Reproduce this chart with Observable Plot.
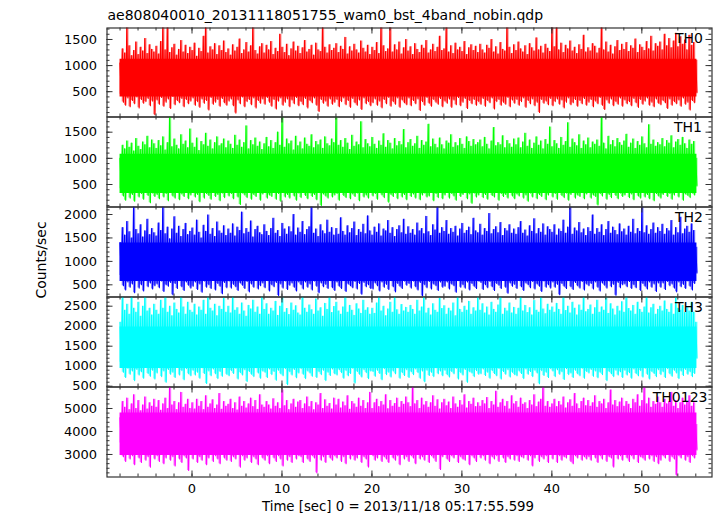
<!DOCTYPE html>
<html><head><meta charset="utf-8">
<script src="https://cdn.jsdelivr.net/npm/d3@7"></script>
<script src="https://cdn.jsdelivr.net/npm/@observablehq/plot@0.6"></script>
<style>
body{margin:0;background:#fff;}
#chart{position:relative;width:717px;height:516px;background:#fff;font-family:"DejaVu Sans",sans-serif;}
#chart svg{position:absolute;left:0;top:0;}
</style></head><body><div id="chart"></div>
<script>
// ---------- data ----------
const title = "ae808040010_20131118051755_wam0_bst_4band_nobin.qdp";
const xLabel = "Time [sec] 0 = 2013/11/18 05:17:55.599";
const yLabel = "Counts/sec";
const bandNames = ["TH0", "TH1", "TH2", "TH3", "TH0123"];
const startTime = -8;      // first bin [sec]
const binStep = 0.25;      // envelope bin width [sec]
const xMajor = [0, 10, 20, 30, 40, 50];
const xMinorStep = 2;

// per 0.25 s bin: highest and lowest counts/sec (16 bins = 4 s per row)
const th0Hi = [
1050,1320,1240,1750,1380,1190,1290,1450,1210,1350,1280,1520,1230,1400,1310,1260,
1370,1220,1460,1750,1300,1750,1250,1340,1410,1200,1310,1480,1260,1390,1230,1350,
1290,1430,1180,1330,1270,1560,1750,1240,1360,1300,1420,1210,1380,1290,1470,1250,
1320,1200,1400,1280,1350,1510,1230,1300,1440,1260,1380,1750,1290,1220,1360,1420,
1240,1390,1300,1460,1210,1330,1270,1600,1350,1250,1410,1190,1320,1450,1280,1370,
1230,1340,1480,1260,1310,1390,1200,1430,1300,1270,1750,1350,1240,1400,1290,1330,
1420,1250,1370,1310,1540,1220,1360,1280,1410,1300,1240,1470,1330,1260,1390,1210,
1350,1290,1440,1230,1750,1380,1270,1320,1750,1260,1400,1300,1450,1220,1340,1500,
1280,1360,1210,1420,1310,1250,1390,1330,1480,1240,1300,1410,1270,1350,1560,1290,
1320,1750,1260,1380,1230,1430,1300,1350,1270,1460,1210,1340,1400,1290,1370,1250,
1410,1300,1240,1390,1330,1500,1260,1360,1220,1440,1310,1280,1750,1350,1230,1400,
1290,1450,1320,1260,1380,1210,1420,1340,1280,1530,1300,1370,1240,1410,1330,1270,
1750,1360,1750,1300,1430,1250,1390,1320,1470,1280,1350,1230,1400,1310,1580,1260,
1340,1280,1420,1370,1240,1330,1750,1300,1450,1260,1390,1220,1360,1480,1290,1410,
1310,1440,1270,1380,1330,1510,1250,1400,1350,1290,1460,1320,1560,1280,1420,1370,
1450,1300,1600,1380,1520,1340,1470,1620,1360,1550,1410,1490,1300,1580,1390,1440,
1100];
const th0Lo = [
450,300,240,380,210,330,270,400,190,350,280,310,370,230,320,60,
340,260,390,220,300,360,180,410,250,330,290,370,210,350,270,320,
380,240,310,200,360,280,330,150,390,260,300,350,220,370,290,240,
320,360,230,90,340,270,400,210,310,350,250,380,190,330,280,360,
260,390,300,220,350,170,320,380,240,300,360,210,340,270,390,230,
310,250,370,190,330,290,380,240,120,350,280,320,220,360,260,300,
350,210,310,380,250,330,200,370,290,240,340,160,380,270,310,230,
290,360,240,320,190,350,270,390,220,310,260,380,200,340,290,250,
380,230,330,270,360,140,310,240,390,280,220,350,300,260,370,210,
320,280,360,200,340,250,390,230,300,370,180,330,270,350,240,310,
260,370,220,330,290,380,170,310,350,240,300,260,390,210,340,280,
350,240,310,380,200,330,270,360,230,300,100,350,280,320,250,370,
230,310,360,260,340,190,300,380,250,290,350,220,330,270,370,240,
300,350,210,320,270,390,240,160,340,280,360,230,310,260,380,220,
340,270,310,230,370,290,200,350,260,320,380,240,300,210,360,280,
250,330,290,180,360,240,310,270,340,220,380,260,300,150,330,290,
480];

const th1Hi = [
1000,1250,1180,1330,1210,1290,1140,1380,1230,1170,1310,1260,1420,1200,1350,1280,
1190,1340,1240,1410,1160,1300,1790,1220,1370,1250,1180,1450,1270,1330,1200,1560,
1290,1210,1390,1150,1320,1260,1480,1230,1350,1180,1300,1410,1240,1280,1370,1200,
1330,1270,1190,1440,1250,1350,1210,1300,1620,1180,1340,1260,1390,1230,1310,1170,
1280,1400,1220,1340,1190,1300,1500,1250,1790,1210,1370,1280,1330,1160,1420,1240,
1310,1180,1390,1270,1230,1450,1200,1320,1260,1350,1190,1410,1280,1240,1370,1300,
1790,1250,1340,1210,1380,1290,1170,1440,1230,1310,1260,1700,1200,1360,1280,1220,
1400,1270,1190,1330,1250,1470,1210,1340,1290,1180,1380,1240,1320,1260,1550,1200,
1300,1360,1230,1280,1420,1190,1340,1250,1310,1650,1220,1370,1270,1200,1390,1260,
1180,1330,1290,1450,1210,1300,1240,1380,1270,1190,1410,1320,1230,1360,1260,1300,
1350,1220,1400,1270,1180,1330,1590,1240,1300,1260,1430,1200,1340,1280,1210,1370,
1260,1390,1200,1310,1480,1230,1350,1190,1290,1410,1250,1330,1180,1360,1270,1600,
1220,1340,1280,1190,1400,1250,1320,1680,1210,1370,1300,1240,1450,1190,1330,1260,
1390,1200,1310,1270,1350,1230,1790,1290,1180,1420,1260,1340,1220,1380,1300,1250,
1330,1460,1210,1290,1370,1190,1320,1250,1410,1280,1200,1640,1270,1350,1230,1300,
1260,1380,1220,1340,1290,1430,1200,1310,1360,1250,1400,1280,1190,1350,1270,1320,
1000];
const th1Lo = [
420,280,200,350,240,310,180,380,260,330,220,360,290,150,340,270,
310,230,370,260,330,190,350,280,240,390,210,320,270,360,230,300,
350,260,310,170,380,240,330,290,220,360,270,310,190,340,250,380,
280,330,230,370,260,120,340,300,250,380,220,310,270,350,200,320,
360,240,300,270,390,220,330,180,350,260,310,240,370,280,200,340,
250,380,290,230,340,270,310,210,360,100,320,280,240,370,260,300,
330,200,350,290,250,380,230,320,270,340,190,360,260,300,240,370,
280,330,220,360,300,250,390,160,310,270,340,230,380,260,310,210,
350,270,320,240,370,210,300,340,260,280,360,190,330,250,390,230,
300,360,240,330,280,200,350,270,310,380,230,320,140,340,260,300,
370,250,310,220,350,290,260,380,200,330,270,310,240,360,280,230,
320,280,370,240,300,180,340,260,390,230,310,270,350,210,300,360,
260,330,220,370,290,250,340,200,310,360,240,300,270,380,230,320,
350,240,300,270,110,330,280,360,220,310,250,380,290,230,340,270,
300,370,250,320,210,350,280,240,390,260,310,230,360,190,330,280,
240,310,360,270,330,220,300,350,260,380,200,320,290,250,340,300,
470];

const th2Hi = [
1400,1720,1560,1850,1630,1500,2160,1680,1590,1780,1520,1650,1900,1570,1700,1610,
1540,1820,1660,2160,1590,1730,1480,1690,1950,1600,1750,1530,1680,1810,1570,1640,
1710,1560,1880,1620,1500,1770,1640,1990,1580,1700,1530,1840,1650,1600,1760,1550,
1690,1600,1800,1540,1730,1660,2050,1590,1700,1620,1860,1520,1680,1750,1610,1570,
1780,1640,1550,1700,1920,1600,1660,1530,1810,1690,1580,1740,1630,2000,1560,1710,
1620,1850,1570,1680,1740,2160,1600,1690,1530,1780,1650,1590,1880,1620,1720,1560,
1700,1580,1930,1640,1560,1760,1610,1700,1840,1550,1680,1620,1790,1590,1970,1650,
1560,1730,1620,1800,1540,1690,1650,1870,1600,1720,1530,1680,1760,1610,1900,1580,
1740,1600,1680,1560,1820,1650,1700,1590,1960,1630,1550,1780,1670,2160,1600,1720,
1640,1870,1580,1700,1620,1750,1540,1690,1810,1600,1660,1730,1570,1920,1650,1610,
1790,1560,1700,1640,2020,1590,1680,1740,1610,1830,1550,1700,1650,1780,1600,1690,
1580,1720,1850,1600,1670,1540,1760,1640,1910,1590,1700,1620,1800,1560,1740,1680,
1620,1780,1560,1690,1640,1880,1600,1730,2160,1580,1710,1650,1830,1610,1690,1550,
1720,1640,1990,1580,1700,1620,1780,1550,1680,1850,1600,1730,1660,1570,1800,1630,
1690,1560,1750,1620,1900,1590,1700,1640,2160,1610,1760,1580,1680,1820,1600,1720,
1640,1790,1580,1700,1650,1870,1560,1720,1610,1940,1590,1690,1750,1620,1800,1660,
1300];
const th2Lo = [
700,480,390,560,450,520,330,590,430,500,370,610,460,540,410,480,
520,440,580,360,500,470,550,290,530,420,590,460,380,560,490,430,
470,560,400,520,340,580,450,500,420,600,390,530,470,310,550,440,
580,430,510,460,380,540,490,420,570,350,520,450,600,410,480,540,
440,590,370,500,460,550,270,520,430,580,400,490,540,450,370,560,
500,410,560,450,520,390,580,470,330,540,460,510,420,590,440,380,
560,470,420,590,360,520,480,440,570,410,530,300,550,460,500,420,
410,540,480,370,560,450,510,400,590,460,350,530,470,420,580,490,
530,430,580,460,390,550,260,500,440,570,410,520,480,380,560,450,
470,560,410,520,480,340,590,450,500,430,560,390,530,470,420,580,
550,400,500,440,570,460,380,530,490,420,600,450,320,540,470,510,
420,590,460,380,540,500,440,570,410,520,470,360,580,450,500,430,
560,450,510,290,530,470,420,590,460,400,550,480,430,570,390,520,
480,530,410,560,450,370,540,490,430,580,460,510,280,550,440,500,
520,460,570,420,500,440,590,380,530,470,410,560,450,520,360,540,
450,540,400,570,480,520,430,350,560,460,510,420,580,470,390,530,
750];

const th3Hi = [
2100,2730,2400,2550,2300,2730,2450,2350,2600,2250,2500,2730,2380,2450,2280,2550,
2400,2300,2650,2450,2730,2350,2500,2260,2580,2420,2330,2730,2480,2300,2600,2400,
2350,2550,2280,2480,2400,2650,2300,2730,2450,2380,2550,2260,2500,2420,2700,2350,
2500,2330,2730,2400,2460,2300,2580,2380,2250,2520,2430,2650,2350,2480,2300,2730,
2420,2560,2300,2450,2380,2620,2270,2500,2730,2350,2440,2290,2580,2400,2510,2330,
2280,2730,2450,2350,2530,2410,2300,2680,2380,2460,2250,2570,2420,2730,2340,2490,
2600,2380,2300,2480,2730,2350,2520,2400,2270,2560,2430,2320,2650,2400,2460,2300,
2450,2320,2580,2730,2380,2500,2260,2430,2600,2350,2730,2410,2300,2540,2380,2470,
2350,2520,2420,2300,2650,2380,2480,2730,2330,2450,2280,2560,2400,2350,2700,2440,
2510,2300,2450,2380,2580,2260,2730,2420,2350,2500,2400,2620,2300,2460,2380,2730,
2400,2560,2330,2480,2280,2600,2420,2350,2530,2730,2300,2450,2380,2580,2330,2470,
2300,2450,2730,2380,2520,2340,2460,2280,2640,2400,2350,2730,2430,2310,2550,2400,
2480,2350,2570,2420,2300,2730,2390,2500,2330,2600,2450,2280,2530,2400,2730,2360,
2420,2530,2300,2460,2650,2350,2480,2400,2730,2320,2560,2430,2280,2500,2380,2610,
2350,2730,2440,2380,2520,2300,2600,2420,2350,2480,2730,2330,2460,2550,2300,2420,
2500,2380,2630,2420,2350,2560,2300,2730,2450,2400,2520,2340,2470,2380,2600,2350,
2100];
const th3Lo = [
1100,850,720,950,800,880,640,920,780,860,700,990,820,750,900,680,
830,960,740,880,600,920,800,850,720,970,780,890,660,940,810,760,
900,780,850,700,960,820,570,880,760,930,810,690,870,750,980,800,
760,890,820,950,680,840,780,910,620,870,800,740,960,830,700,880,
850,720,930,790,870,650,900,810,760,940,540,860,780,920,710,830,
940,800,690,880,830,750,970,720,860,790,900,640,850,770,930,810,
780,910,840,700,890,760,820,950,580,870,800,730,910,840,690,880,
870,750,900,820,660,940,790,850,730,880,810,960,700,840,770,910,
720,860,790,930,840,700,880,610,900,770,850,740,960,810,880,760,
900,790,730,870,810,950,680,840,780,920,600,860,830,740,890,800,
810,930,770,850,700,890,820,760,940,680,870,800,910,730,850,790,
760,880,820,690,930,800,870,740,900,830,560,890,770,850,720,940,
880,740,910,800,860,670,940,790,830,720,900,810,760,950,700,870,
830,920,750,880,710,850,790,960,640,870,810,740,900,780,860,720,
900,780,840,700,930,820,760,890,730,950,800,680,870,820,740,910,
790,860,720,940,810,750,900,830,690,880,770,920,800,860,740,820,
1200];

const th0123Hi = [
4600,5300,5050,5450,4950,5200,5600,5000,5350,4900,5150,5500,4980,5250,5100,5400,
5050,5350,4920,5200,5450,5000,5935,5150,5300,4950,5250,5700,5050,5180,5400,5000,
5250,4980,5400,5100,5300,4950,5550,5050,5200,5380,5000,5150,5650,4970,5300,5100,
5180,5400,5000,5250,4930,5500,5100,5300,5020,5200,5450,5080,5350,4960,5600,5150,
5050,5300,5150,4980,5420,5100,5250,5000,5800,5120,5350,4950,5200,5400,5050,5280,
5350,5000,5200,5500,5080,5300,4940,5250,5150,5650,5000,5380,5100,5220,4980,5450,
5150,5400,5020,5280,5120,5550,4970,5300,5200,5050,5450,5100,5350,5000,5250,5700,
5000,5250,5400,5080,5300,5150,5600,4990,5350,5100,5220,5450,5050,5300,5180,5500,
5250,5080,5935,5200,5350,5000,5450,5150,5300,5050,5250,5550,5100,5380,4980,5250,
5400,5120,5280,5000,5500,5200,5050,5350,5150,5600,5020,5300,5180,5450,5080,5250,
5100,5350,5200,5480,5000,5300,5150,5750,5050,5250,5400,5100,5300,4980,5550,5200,
5300,5050,5450,5180,5250,5000,5350,5150,5600,5080,5280,5400,5935,5100,5300,5050,
5200,5400,5080,5300,5150,5500,5020,5250,5380,5100,5650,5200,5000,5300,5450,5120,
5350,5100,5250,5550,5050,5300,5200,5400,5000,5250,5800,5150,5350,5080,5280,5450,
5100,5300,5180,5000,5400,5250,5600,5100,5350,5935,5200,5450,5050,5300,5180,5500,
5250,5050,5400,5200,5300,5700,5100,5350,5000,5250,5450,5150,5300,5550,5100,5250,
4300];
const th0123Lo = [
3500,2900,2700,3050,2800,2950,2550,3100,2850,2650,3000,2750,2900,2450,3050,2800,
2950,2700,3000,2600,2850,3100,2750,2900,2500,3050,2800,2650,2950,2850,2300,3000,
2800,3050,2650,2900,2750,3000,2550,2850,3100,2700,2950,2800,2600,3000,2850,2750,
3000,2700,2900,2800,3050,2450,2950,2750,2850,3000,2650,2900,2800,2550,3050,2850,
2750,2950,2600,3000,2850,2700,2950,2800,2500,3050,2750,2900,2650,3000,2800,2950,
2900,2650,3050,2800,2700,2950,2850,2200,3000,2750,2900,2650,3050,2850,2750,2950,
2850,3000,2700,2900,2600,3050,2800,2950,2750,2850,3000,2650,2900,2800,2450,3000,
2950,2750,2850,3050,2700,2900,2800,2650,3000,2850,2750,2950,2550,3050,2800,2900,
2700,2950,2850,2600,3000,2800,2900,2750,3050,2650,2950,2850,2700,3000,2350,2900,
3000,2800,2700,2950,2850,3050,2650,2900,2800,2750,3000,2550,2950,2850,2700,3000,
2850,2950,2750,3000,2600,2900,2800,2950,2700,3050,2850,2650,2900,2800,3000,2750,
2950,2700,2900,2850,3050,2750,2950,2500,2850,3000,2700,2900,2800,2950,2650,3050,
2800,3000,2650,2950,2750,2900,2850,3050,2700,2600,2950,2850,3000,2750,2900,2800,
2900,2750,3050,2850,2650,2950,2800,3000,2700,2900,2850,2450,3000,2800,2950,2750,
3050,2850,2700,2950,2800,3000,2650,2900,2850,2750,3050,2800,2950,2700,2900,2600,
2750,2950,2850,3000,2700,2900,2800,2100,2950,2850,3000,2750,2900,2650,2950,2850,
3200];

// densest part of each light curve [low, high]
const th0Core = [400, 1120];
const th1Core = [330, 1080];
const th2Core = [570, 1390];
const th3Core = [940, 1980];
const th0123Core = [2950, 4800];

// y axis: tick labels, minor tick step, visible range
const th0Ticks = [500, 1000, 1500];
const th1Ticks = [500, 1000, 1500];
const th2Ticks = [500, 1000, 1500, 2000];
const th3Ticks = [500, 1000, 1500, 2000, 2500];
const th0123Ticks = [3000, 4000, 5000];
const minorSteps = [100, 100, 100, 100, 200];
const yDomains = [[15, 1720], [70, 1790], [240, 2160], [480, 2730], [2020, 5935]];
const xDomain = [-9.45, 57.8];

// ---------- layout / style ----------
const W = 717, H = 516;
const mL = 106.5, mR = 5.5;
const panelTops = [27.5, 116.5, 206.5, 296.5, 386.5];
const panelBottom = 476.5;
const colors = ["#ff0000", "#00ff00", "#0000ff", "#00ffff", "#ff00ff"];
const labelDx = [-9, -10, -9, -9, -4.5];
const axisColor = "#333333";
const font = "DejaVu Sans";

const his = [th0Hi, th1Hi, th2Hi, th3Hi, th0123Hi];
const los = [th0Lo, th1Lo, th2Lo, th3Lo, th0123Lo];
const cores = [th0Core, th1Core, th2Core, th3Core, th0123Core];
const ticksAll = [th0Ticks, th1Ticks, th2Ticks, th3Ticks, th0123Ticks];

const times = th0Hi.map((_, i) => startTime + i * binStep);
const xMinor = d3.range(startTime, xDomain[1], xMinorStep);
const chart = document.getElementById("chart");

bandNames.forEach((name, k) => {
  const top = panelTops[k];
  const bottom = k < 4 ? panelTops[k + 1] : panelBottom;
  const fh = bottom - top, fw = W - mL - mR;
  const hi = his[k], lo = los[k];
  const n = Math.min(hi.length, lo.length, times.length);
  const zig = [], bins = [];
  for (let i = 0; i < n; i++) {
    zig.push({t: times[i], v: hi[i]});
    zig.push({t: times[i] + binStep / 2, v: lo[i]});
    bins.push({t: times[i] + binStep / 4, hi: hi[i], lo: lo[i]});
  }
  const core = [
    {t: times[0], lo: cores[k][0], hi: cores[k][1]},
    {t: times[n - 1] + binStep / 2, lo: cores[k][0], hi: cores[k][1]}
  ];
  const dom = yDomains[k];
  const st = minorSteps[k];
  const yMinor = d3.range(Math.ceil(dom[0] / st) * st, dom[1], st);
  const isLast = k === 4;
  const major = 6, minor = 3;
  const marks = [
    Plot.ruleX(bins, {x: "t", y1: "lo", y2: "hi", stroke: colors[k], strokeWidth: 2.25, strokeOpacity: 0.5, clip: true}),
    Plot.areaY(core, {x: "t", y1: "lo", y2: "hi", fill: colors[k], clip: true}),
    Plot.line(zig, {x: "t", y: "v", stroke: colors[k], strokeWidth: 1.1, strokeOpacity: 1, clip: true}),
    Plot.tickX(xMajor, {x: d => d, insetTop: fh - major, stroke: axisColor}),
    Plot.tickX(xMajor, {x: d => d, insetBottom: fh - major, stroke: axisColor}),
    Plot.tickX(xMinor, {x: d => d, insetTop: fh - minor, stroke: axisColor}),
    Plot.tickX(xMinor, {x: d => d, insetBottom: fh - minor, stroke: axisColor}),
    Plot.tickY(ticksAll[k], {y: d => d, insetRight: fw - major, stroke: axisColor}),
    Plot.tickY(ticksAll[k], {y: d => d, insetLeft: fw - major, stroke: axisColor}),
    Plot.tickY(yMinor, {y: d => d, insetRight: fw - minor, stroke: axisColor}),
    Plot.tickY(yMinor, {y: d => d, insetLeft: fw - minor, stroke: axisColor}),
    Plot.axisY({ticks: ticksAll[k], tickSize: 0, tickPadding: 10, label: null, fontSize: 13, tickFormat: d => String(d)}),
    Plot.frame({stroke: axisColor, strokeWidth: 1.2}),
    Plot.text([name], {frameAnchor: "top-right", textAnchor: "end", lineAnchor: "middle", dx: labelDx[k], dy: 11, fontSize: 14, fill: "black"})
  ];
  if (isLast) {
    marks.push(Plot.axisX({ticks: xMajor, tickSize: 0, tickPadding: 7, label: null, fontSize: 13, tickFormat: d => String(d)}));
    marks.push(Plot.text([xLabel], {frameAnchor: "bottom", textAnchor: "middle", lineAnchor: "bottom", dx: -11.5, dy: 33.5, fontSize: 13.3, fill: "black"}));
  }
  if (k === 0) {
    marks.push(Plot.text([title], {frameAnchor: "top-left", textAnchor: "start", lineAnchor: "bottom", dx: 0.5, dy: -8, fontSize: 14, fill: "black"}));
  }
  if (k === 2) {
    marks.push(Plot.text([yLabel], {frameAnchor: "left", textAnchor: "middle", lineAnchor: "middle", rotate: -90, dx: -65.5, dy: 8, fontSize: 14, fill: "black"}));
  }
  const svg = Plot.plot({
    width: W, height: H,
    marginLeft: mL, marginRight: mR, marginTop: top, marginBottom: H - bottom,
    x: {domain: xDomain, axis: null},
    y: {domain: dom, axis: null},
    style: {background: "transparent", overflow: "visible", fontFamily: font, fontSize: "13px", color: "black"},
    marks
  });
  chart.appendChild(svg);
});
</script></body></html>
